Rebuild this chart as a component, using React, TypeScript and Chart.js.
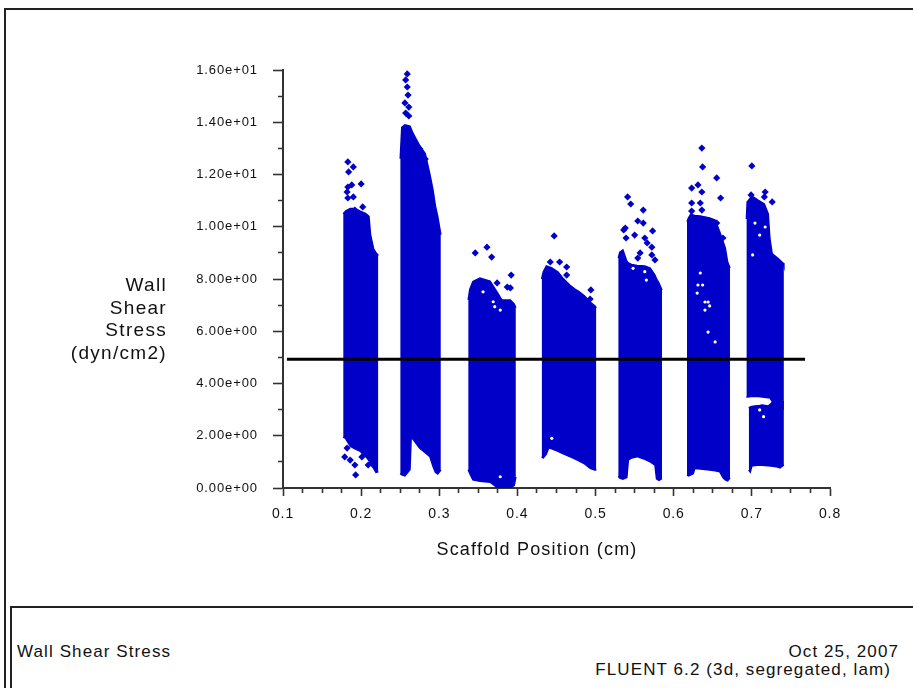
import React, { useEffect, useRef } from 'react';
import { Chart, registerables } from 'chart.js';

Chart.register(...registerables);

const BLUE = 'rgb(0,0,200)';
const FONT = "'Liberation Sans', Arial, sans-serif";

// Axis tick labels
const X_TICK_LABELS = ['0.1', '0.2', '0.3', '0.4', '0.5', '0.6', '0.7', '0.8'];
const Y_TICK_LABELS = ['0.00e+00', '2.00e+00', '4.00e+00', '6.00e+00', '8.00e+00', '1.00e+01', '1.20e+01', '1.40e+01', '1.60e+01'];

// Reference line (wall shear stress threshold)
const REF_LINE_X = [0.105, 0.768];
const REF_LINE_Y = 4.93;

// Dense point clouds: upper and lower envelope per band (Scaffold Position, Wall Shear Stress)
const C1_X = [0.177, 0.180, 0.186, 0.192, 0.199, 0.206, 0.210, 0.212, 0.216, 0.219, 0.222];
const C1_TOP = [10.5, 10.6, 10.7, 10.7, 10.6, 10.5, 10.4, 9.7, 9.15, 9.0, 8.9];
const C1_BOT = [1.95, 1.9, 1.6, 1.5, 1.4, 1.2, 1.05, 0.9, 0.75, 0.6, 0.62];

const C2_X = [0.250, 0.252, 0.256, 0.2625, 0.264, 0.266, 0.275, 0.282, 0.288, 0.292, 0.295, 0.298, 0.302];
const C2_TOP = [12.6, 13.8, 13.9, 13.85, 13.75, 13.6, 13.1, 12.8, 12.0, 11.4, 10.8, 10.4, 9.7];
const C2_BOT = [0.55, 0.5, 0.46, 0.7, 1.9, 1.88, 1.52, 1.35, 1.2, 0.82, 0.6, 0.54, 0.69];

const C3_X = [0.337, 0.339, 0.343, 0.352, 0.365, 0.374, 0.380, 0.386, 0.391, 0.396, 0.398];
const C3_TOP = [7.2, 7.6, 7.9, 8.04, 7.92, 7.5, 7.2, 7.2, 7.2, 7.04, 6.9];
const C3_BOT = [0.7, 0.56, 0.31, 0.26, 0.22, 0.02, 0.0, 0.0, 0.0, 0.1, 0.43];

const C4_X = [0.431, 0.433, 0.437, 0.440, 0.444, 0.452, 0.458, 0.467, 0.474, 0.478, 0.486, 0.493, 0.499, 0.501];
const C4_TOP = [8.0, 8.27, 8.5, 8.47, 8.42, 8.27, 8.04, 7.77, 7.6, 7.54, 7.35, 7.12, 6.97, 6.9];
const C4_BOT = [1.2, 1.15, 1.3, 1.53, 1.5, 1.4, 1.32, 1.2, 1.11, 1.05, 0.92, 0.75, 0.69, 0.69];

const C5_X = [0.529, 0.531, 0.535, 0.540, 0.542, 0.546, 0.553, 0.563, 0.570, 0.576, 0.578, 0.581, 0.585];
const C5_TOP = [8.8, 9.03, 9.11, 8.68, 8.62, 8.56, 8.52, 8.5, 8.42, 8.15, 8.0, 7.85, 7.58];
const C5_BOT = [0.45, 0.38, 0.34, 0.4, 1.07, 1.15, 1.2, 1.1, 1.0, 0.88, 0.35, 0.29, 0.36];

const C6_X = [0.617, 0.619, 0.622, 0.625, 0.627, 0.634, 0.646, 0.653, 0.659, 0.663, 0.666, 0.669, 0.672];
const C6_TOP = [10.2, 10.34, 10.49, 10.45, 10.43, 10.41, 10.34, 10.26, 9.8, 9.45, 9.19, 8.65, 8.42];
const C6_BOT = [0.5, 0.46, 0.5, 0.55, 0.75, 0.73, 0.69, 0.66, 0.62, 0.4, 0.31, 0.27, 0.38];

const C7A_X = [0.693, 0.694, 0.700, 0.708, 0.716, 0.721, 0.723, 0.726, 0.733, 0.740, 0.741];
const C7A_TOP = [10.3, 10.95, 11.18, 11.02, 10.87, 10.49, 9.57, 8.96, 8.8, 8.61, 8.5];
const C7A_BOT = [3.48, 3.48, 3.5, 3.5, 3.47, 3.45, 3.45, 3.32, 3.0, 3.0, 3.0];

const C7B_X = [0.696, 0.698, 0.700, 0.704, 0.710, 0.713, 0.721, 0.727, 0.733, 0.736, 0.741];
const C7B_TOP = [3.06, 3.1, 3.12, 3.14, 3.16, 3.18, 3.14, 3.3, 3.3, 3.3, 3.3];
const C7B_BOT = [0.69, 0.61, 0.84, 0.86, 0.88, 0.87, 0.85, 0.83, 0.8, 0.77, 0.88];

const BANDS = [
  [C1_X, C1_TOP, C1_BOT],
  [C2_X, C2_TOP, C2_BOT],
  [C3_X, C3_TOP, C3_BOT],
  [C4_X, C4_TOP, C4_BOT],
  [C5_X, C5_TOP, C5_BOT],
  [C6_X, C6_TOP, C6_BOT],
  [C7A_X, C7A_TOP, C7A_BOT],
  [C7B_X, C7B_TOP, C7B_BOT],
];

// Isolated points outside the dense clouds
const OUT_X = [
  0.183, 0.190, 0.184, 0.183, 0.188, 0.200, 0.182, 0.190, 0.183, 0.202, 0.192,
  0.182, 0.186, 0.192, 0.193, 0.179, 0.201, 0.209,
  0.259, 0.257, 0.259, 0.260, 0.256, 0.261, 0.257, 0.261, 0.275, 0.282, 0.273,
  0.346, 0.361, 0.367, 0.392, 0.387, 0.391, 0.374,
  0.447, 0.442, 0.454, 0.463, 0.463, 0.494, 0.493,
  0.541, 0.545, 0.561, 0.554, 0.561, 0.538, 0.536, 0.573, 0.550, 0.539, 0.563, 0.566, 0.572, 0.557, 0.572, 0.554, 0.576,
  0.636, 0.637, 0.655, 0.623, 0.631, 0.636, 0.660, 0.623, 0.634, 0.623, 0.636, 0.655, 0.663, 0.662,
  0.700, 0.717, 0.716, 0.726, 0.699, 0.727,
];
const OUT_Y = [
  12.48, 12.29, 12.10, 11.52, 11.60, 11.64, 11.33, 11.14, 11.10, 10.76, 10.64,
  1.53, 1.07, 0.88, 0.50, 1.19, 1.19, 0.88,
  15.85, 15.62, 15.35, 15.04, 14.74, 14.58, 14.35, 14.24, 12.98, 12.59, 12.48,
  9.00, 9.22, 8.84, 8.15, 7.69, 7.66, 7.85,
  9.65, 8.65, 8.65, 8.46, 8.15, 7.58, 7.23,
  11.14, 10.87, 10.64, 10.22, 10.14, 9.95, 9.88, 9.84, 9.68, 9.57, 9.57, 9.38, 9.22, 9.00, 8.92, 8.80, 8.73,
  13.01, 12.29, 11.87, 11.48, 11.60, 11.33, 11.10, 10.91, 10.91, 10.60, 10.64, 10.14, 9.57, 8.92,
  12.33, 11.33, 11.14, 10.95, 11.22, 8.84,
];

// Small empty spots inside the clouds
const GAP_X = [0.634, 0.631, 0.637, 0.640, 0.644, 0.640, 0.646, 0.644, 0.653, 0.630,
  0.704, 0.710, 0.717, 0.701, 0.715, 0.710,
  0.356, 0.369, 0.378, 0.371, 0.378, 0.444, 0.548, 0.563, 0.565];
const GAP_Y = [8.23, 7.77, 7.77, 7.12, 7.12, 6.81, 6.97, 5.97, 5.59, 7.46,
  10.14, 9.68, 9.99, 8.92, 2.73, 2.99,
  7.51, 7.13, 6.81, 6.94, 0.43, 1.90, 8.41, 8.28, 7.96];

const pts = (xs: number[], ys: number[]) => xs.map((x, i) => ({ x, y: ys[i] }));

const spacingPlugin = {
  id: 'letterSpacing',
  beforeUpdate(chart: any) { chart.ctx.letterSpacing = '0.9px'; },
  beforeDraw(chart: any) { chart.ctx.letterSpacing = '0.9px'; },
};

export default function App() {
  const ref = useRef<HTMLCanvasElement>(null);

  useEffect(() => {
    const datasets: any[] = [
      {
        type: 'line',
        data: REF_LINE_X.map((x) => ({ x, y: REF_LINE_Y })),
        borderColor: '#000',
        borderWidth: 3,
        pointRadius: 0,
        fill: false,
      },
      {
        type: 'scatter',
        data: pts(GAP_X, GAP_Y),
        pointStyle: 'circle',
        pointRadius: 1.6,
        backgroundColor: '#fff',
        borderWidth: 0,
      },
      {
        type: 'scatter',
        data: pts(OUT_X, OUT_Y),
        pointStyle: 'rectRot',
        pointRadius: 3.6,
        backgroundColor: BLUE,
        borderWidth: 0,
      },
    ];
    BANDS.forEach(([xs, top, bot]) => {
      datasets.push({
        type: 'line',
        data: pts(xs, top),
        borderColor: BLUE,
        borderWidth: 1.5,
        backgroundColor: BLUE,
        pointRadius: 0,
        tension: 0,
        fill: '+1',
      });
      datasets.push({
        type: 'line',
        data: pts(xs, bot),
        borderColor: BLUE,
        borderWidth: 1.5,
        backgroundColor: BLUE,
        pointRadius: 0,
        tension: 0,
        fill: false,
      });
    });

    const chart = new Chart(ref.current as HTMLCanvasElement, {
      type: 'scatter',
      data: { datasets },
      plugins: [spacingPlugin],
      options: {
        animation: false,
        responsive: false,
        events: [],
        layout: { padding: { left: 0, right: 83, top: 70, bottom: 0 } },
        plugins: { legend: { display: false }, tooltip: { enabled: false } },
        scales: {
          x: {
            type: 'linear',
            position: 'bottom',
            min: 0.1,
            max: 0.8,
            afterFit: (s: any) => { s.height = 112; },
            ticks: {
              stepSize: 0.025,
              autoSkip: false,
              maxRotation: 0,
              maxTicksLimit: 1000,
              padding: 10,
              color: '#111',
              font: { family: FONT, size: 14 },
              callback: (v: any) => {
                const r = Math.round(Number(v) * 10);
                return Math.abs(Number(v) * 10 - r) < 1e-6 ? X_TICK_LABELS[r - 1] : '';
              },
            },
            grid: {
              drawOnChartArea: false,
              drawTicks: true,
              tickLength: 8,
              tickWidth: 1.6,
              tickColor: '#333',
              tickBorderDash: (ctx: any) => {
                const v = ctx.tick ? ctx.tick.value : 0;
                return Math.abs(v * 10 - Math.round(v * 10)) < 1e-6 ? [] : [4, 100];
              },
            },
            border: { display: true, color: '#333', width: 2 },
          },
          y: {
            type: 'linear',
            position: 'left',
            min: 0,
            max: 16,
            afterFit: (s: any) => { s.width = 283; },
            ticks: {
              stepSize: 1,
              autoSkip: false,
              maxTicksLimit: 1000,
              padding: 15,
              color: '#111',
              font: { family: FONT, size: 13 },
              callback: (v: any) => {
                const n = Math.round(Number(v));
                return n % 2 === 0 ? Y_TICK_LABELS[n / 2] : '';
              },
            },
            grid: {
              drawOnChartArea: false,
              drawTicks: true,
              tickLength: 10,
              tickWidth: 1.6,
              tickColor: '#333',
              tickBorderDash: (ctx: any) => {
                const v = ctx.tick ? Math.round(ctx.tick.value) : 0;
                return v % 2 === 0 ? [] : [0, 5, 5, 100];
              },
            },
            border: { display: true, color: '#333', width: 2 },
          },
        },
      } as any,
    });
    return () => chart.destroy();
  }, []);

  const line = (s: React.CSSProperties) => (
    <div style={{ position: 'absolute', background: '#222', ...s }} />
  );
  const text: React.CSSProperties = {
    position: 'absolute',
    fontFamily: FONT,
    color: '#111',
    whiteSpace: 'nowrap',
  };

  return (
    <div style={{ position: 'absolute', left: 0, top: 0, width: 913, height: 688, background: '#fff', overflow: 'hidden' }}>
      <canvas ref={ref} width={913} height={600} style={{ position: 'absolute', left: 0, top: 0 }} />
      {line({ left: 4, top: 8, width: 909, height: 2 })}
      {line({ left: 4, top: 8, width: 2, height: 680 })}
      {line({ left: 10, top: 606, width: 903, height: 2 })}
      {line({ left: 10, top: 606, width: 2, height: 82 })}
      <div style={{ ...text, left: 0, width: 167, top: 274, textAlign: 'right', fontSize: 19, lineHeight: '22.7px', letterSpacing: '1.3px' }}>
        <div>Wall</div>
        <div>Shear</div>
        <div>Stress</div>
        <div>(dyn/cm2)</div>
      </div>
      <div style={{ ...text, left: 337, width: 400, top: 538, textAlign: 'center', fontSize: 18, lineHeight: '22px', letterSpacing: '1.2px' }}>Scaffold Position (cm)</div>
      <div style={{ ...text, left: 17, top: 642, fontSize: 17, lineHeight: '20px', letterSpacing: '1.1px' }}>Wall Shear Stress</div>
      <div style={{ ...text, right: 913 - 899, top: 642, fontSize: 17, lineHeight: '20px', letterSpacing: '1.1px', textAlign: 'right' }}>Oct 25, 2007</div>
      <div style={{ ...text, right: 913 - 891, top: 660, fontSize: 17, lineHeight: '20px', letterSpacing: '1.1px', textAlign: 'right' }}>FLUENT 6.2 (3d, segregated, lam)</div>
    </div>
  );
}
